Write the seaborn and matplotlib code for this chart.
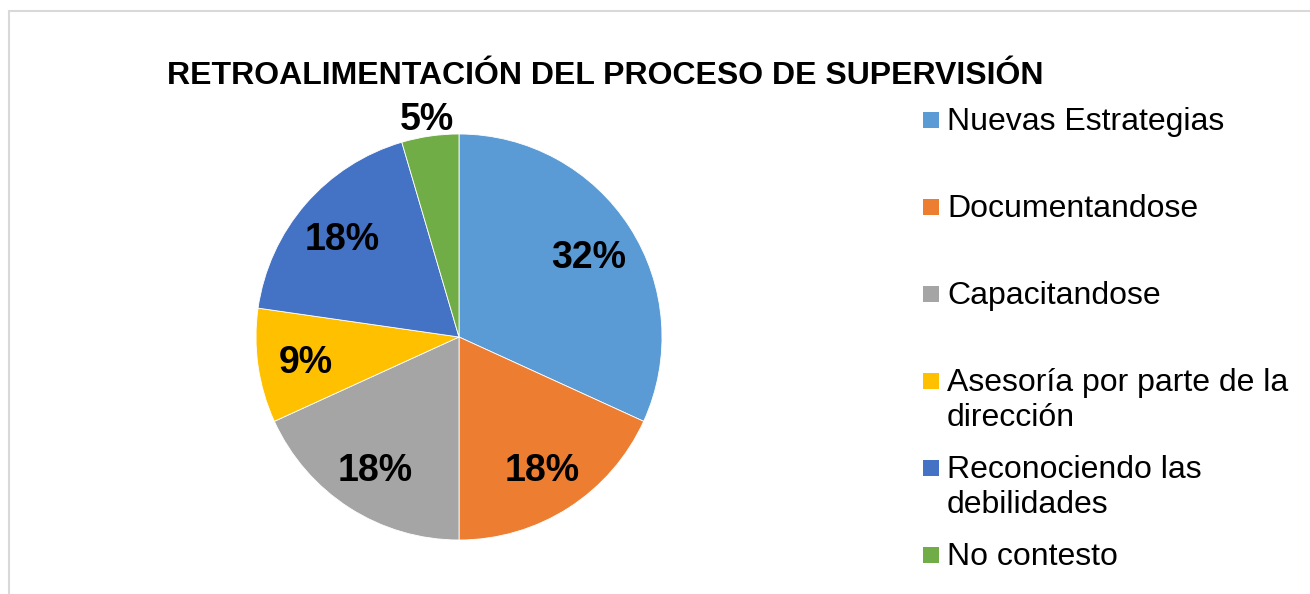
import numpy as np
import matplotlib
matplotlib.use("Agg")
import matplotlib.pyplot as plt
from matplotlib.lines import Line2D
from matplotlib.patches import Rectangle
import seaborn as sns

# --- Data ---
TITLE = "RETROALIMENTACIÓN DEL PROCESO DE SUPERVISIÓN"
categories = ["Nuevas Estrategias", "Documentandose", "Capacitandose",
              "Asesoría por parte de la\ndirección", "Reconociendo las\ndebilidades",
              "No contesto"]
counts = [7, 4, 4, 2, 4, 1]
colors = ["#5B9BD5", "#ED7D31", "#A5A5A5", "#FFC000", "#4472C4", "#70AD47"]

# --- Layout (pixels) ---
W, H, DPI = 1310, 594, 100
CX, CY, R = 459, 337, 203
LEG_X, LEG_TOP, LEG_STEP, SQ = 923, 108, 87, 16

sns.set_style("white")
plt.rcParams["font.family"] = ["Liberation Sans", "DejaVu Sans"]
plt.rcParams["text.color"] = "black"

fig = plt.figure(figsize=(W / DPI, H / DPI), dpi=DPI)
fig.patch.set_facecolor("white")

ax = fig.add_axes([(CX - R) / W, (H - CY - R) / H, 2 * R / W, 2 * R / H])
wedges, texts, autotexts = ax.pie(
    counts, colors=colors, startangle=90, counterclock=False,
    autopct="%.0f%%", pctdistance=0.76,
    wedgeprops=dict(edgecolor="white", linewidth=0.6),
    textprops=dict(fontsize=27, fontweight="bold", color="black"))
ax.set_xlim(-1, 1)
ax.set_ylim(-1, 1)
ax.set_aspect("equal")
ax.axis("off")
for t in autotexts:
    t.set_va("center_baseline")

# small slice: label goes outside
w, t = wedges[-1], autotexts[-1]
ang = np.deg2rad((w.theta1 + w.theta2) / 2)
t.set_position((1.1 * np.cos(ang), 1.1 * np.sin(ang)))

fig.text(605.5 / W, 1 - 61 / H, TITLE, ha="center", va="top",
         fontsize=23, fontweight="bold", color="black")

# legend, fixed slot heights like the original
for i, (lab, col) in enumerate(zip(categories, colors)):
    top = LEG_TOP + i * LEG_STEP
    fig.patches.append(Rectangle((LEG_X / W, 1 - (top + 4 + SQ) / H), SQ / W, SQ / H,
                                 transform=fig.transFigure, facecolor=col,
                                 edgecolor="none"))
    fig.text((LEG_X + 24) / W, 1 - (top - 1) / H, lab, ha="left", va="top",
             fontsize=23, linespacing=1.22, color="black")

# chart area border (left and top edges visible)
fig.lines.append(Line2D([9 / W, 9 / W], [0, 1 - 11 / H], transform=fig.transFigure,
                        color="#D9D9D9", linewidth=1.5))
fig.lines.append(Line2D([9 / W, 1], [1 - 11 / H, 1 - 11 / H], transform=fig.transFigure,
                        color="#D9D9D9", linewidth=1.5))

fig.savefig("out.png", dpi=DPI, facecolor="white")
